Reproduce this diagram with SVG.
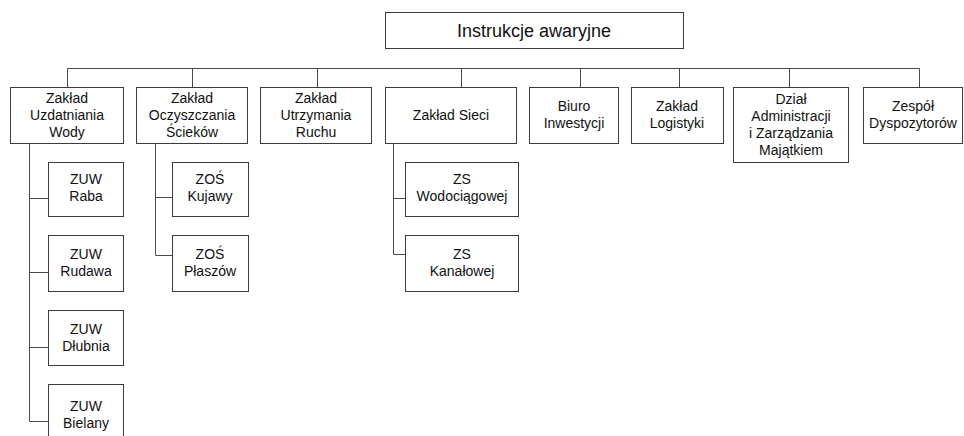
<svg xmlns="http://www.w3.org/2000/svg" width="964" height="436" viewBox="0 0 964 436">
<style>
.box{fill:#fff;stroke:#3c3c3c;stroke-width:1}
.t{font-family:"Liberation Sans",Arial,sans-serif;font-size:14px;fill:#111;text-anchor:middle}
.title{font-size:18px}
.c{fill:none;stroke:#4a4a4a;stroke-width:1}
</style>
<rect width="964" height="436" fill="#fff"/>
<g id="connectors">
<path class="c" d="M67.5 87V68.5H919.5V87"/>
<path class="c" d="M192.5 68.5V87M317.5 68.5V87M461.5 68.5V87M580.5 68.5V87M679.5 68.5V87M789.5 68.5V87"/>
<path class="c" d="M29.5 143V421.5H48M29.5 198.5H48M29.5 272.5H48M29.5 347.5H48"/>
<path class="c" d="M155.5 143V255.5H172M155.5 197.5H172"/>
<path class="c" d="M393.5 143V254.5H405M393.5 198.5H405"/>
</g>
<g id="root"><rect class="box" x="385.5" y="12.5" width="298" height="36"/><text class="t title" x="534" y="37">Instrukcje awaryjne</text></g>
<g id="zuw"><rect class="box" x="10.5" y="87.5" width="113" height="56"/><text class="t" x="67" y="103">Zakład</text><text class="t" x="67" y="120">Uzdatniania</text><text class="t" x="67" y="137">Wody</text></g>
<g id="zos"><rect class="box" x="136.5" y="87.5" width="111" height="56"/><text class="t" x="192" y="103">Zakład</text><text class="t" x="192" y="120">Oczyszczania</text><text class="t" x="192" y="137">Ścieków</text></g>
<g id="zur"><rect class="box" x="260.5" y="87.5" width="111" height="56"/><text class="t" x="316" y="103">Zakład</text><text class="t" x="316" y="120">Utrzymania</text><text class="t" x="316" y="137">Ruchu</text></g>
<g id="zs"><rect class="box" x="385.5" y="87.5" width="131" height="56"/><text class="t" x="451" y="120">Zakład Sieci</text></g>
<g id="bi"><rect class="box" x="529.5" y="87.5" width="89" height="56"/><text class="t" x="574" y="111">Biuro</text><text class="t" x="574" y="128">Inwestycji</text></g>
<g id="zl"><rect class="box" x="631.5" y="87.5" width="92" height="56"/><text class="t" x="677" y="111">Zakład</text><text class="t" x="677" y="128">Logistyki</text></g>
<g id="dazm"><rect class="box" x="733.5" y="87.5" width="115" height="75"/><text class="t" x="791" y="104">Dział</text><text class="t" x="791" y="121">Administracji</text><text class="t" x="791" y="138">i Zarządzania</text><text class="t" x="791" y="155">Majątkiem</text></g>
<g id="zd"><rect class="box" x="863.5" y="87.5" width="99" height="56"/><text class="t" x="913" y="111">Zespół</text><text class="t" x="913" y="128">Dyspozytorów</text></g>
<g id="zuw-raba"><rect class="box" x="48.5" y="162.5" width="75" height="54"/><text class="t" x="86" y="184">ZUW</text><text class="t" x="86" y="201">Raba</text></g>
<g id="zuw-rudawa"><rect class="box" x="48.5" y="235.5" width="75" height="56"/><text class="t" x="86" y="259">ZUW</text><text class="t" x="86" y="276">Rudawa</text></g>
<g id="zuw-dlubnia"><rect class="box" x="48.5" y="310.5" width="75" height="55"/><text class="t" x="86" y="334">ZUW</text><text class="t" x="86" y="351">Dłubnia</text></g>
<g id="zuw-bielany"><rect class="box" x="48.5" y="384.5" width="75" height="60"/><text class="t" x="86" y="411">ZUW</text><text class="t" x="86" y="428">Bielany</text></g>
<g id="zos-kujawy"><rect class="box" x="172.5" y="162.5" width="76" height="54"/><text class="t" x="210" y="184">ZOŚ</text><text class="t" x="210" y="201">Kujawy</text></g>
<g id="zos-plaszow"><rect class="box" x="172.5" y="235.5" width="76" height="56"/><text class="t" x="210" y="259">ZOŚ</text><text class="t" x="210" y="276">Płaszów</text></g>
<g id="zs-wod"><rect class="box" x="405.5" y="162.5" width="113" height="54"/><text class="t" x="462" y="184">ZS</text><text class="t" x="462" y="201">Wodociągowej</text></g>
<g id="zs-kan"><rect class="box" x="405.5" y="235.5" width="113" height="56"/><text class="t" x="462" y="259">ZS</text><text class="t" x="462" y="276">Kanałowej</text></g>
</svg>
